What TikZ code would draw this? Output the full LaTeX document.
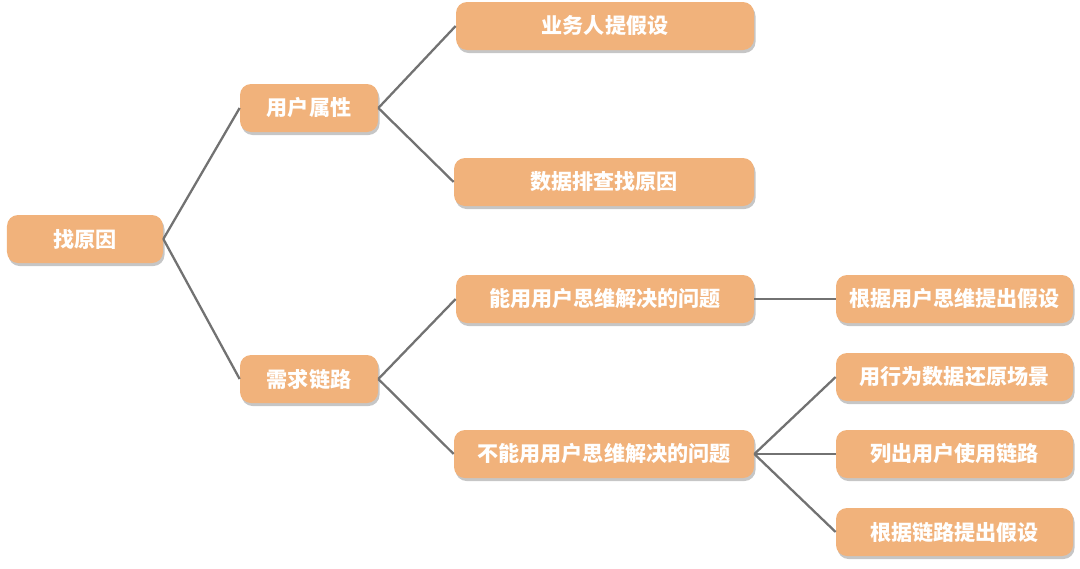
\documentclass[tikz,border=0pt]{standalone}
\usepackage{fontspec}
\newfontfamily\cjk{Noto Sans CJK SC}
\usepackage{xcolor}
\usepackage{tikz}
\usetikzlibrary{shadows,positioning}

\definecolor{boxfill}{HTML}{F1B27B}
\definecolor{linkgray}{HTML}{727272}

\begin{document}
\begin{tikzpicture}[node distance=0cm,
box/.style={rectangle,rounded corners=2.2mm,fill=boxfill,
drop shadow={shadow xshift=0.3mm,shadow yshift=-0.6mm,opacity=0.45},
minimum height=9.6mm,inner sep=0pt,text=white,font=\cjk\bfseries\fontsize{12}{14}\selectfont},
link/.style={-,line width=1.3pt,linkgray}]
\useasboundingbox (0,0) rectangle (21.6,11.36);
\begin{scope}[scale=1, transform shape]

\node (find_cause) [box, minimum width=31.2mm] at (1.70,6.58) {找原因};

\node (user_attr) [box, minimum width=27.6mm] at (6.18,9.20) {用户属性};
\node (demand_chain) [box, minimum width=27.6mm] at (6.18,3.78) {需求链路};

\node (biz_hyp) [box, minimum width=59.6mm] at (12.10,10.84) {业务人提假设};
\node (data_check) [box, minimum width=60mm] at (12.08,7.72) {数据排查找原因};
\node (can_solve) [box, minimum width=59.6mm] at (12.10,5.38) {能用用户思维解决的问题};
\node (cannot_solve) [box, minimum width=60mm] at (12.08,2.28) {不能用用户思维解决的问题};

\node (think_hyp) [box, minimum width=47.4mm] at (19.09,5.38) {根据用户思维提出假设};
\node (behav_data) [box, minimum width=47.4mm] at (19.09,3.82) {用行为数据还原场景};
\node (list_path) [box, minimum width=47.4mm] at (19.09,2.28) {列出用户使用链路};
\node (path_hyp) [box, minimum width=47.4mm] at (19.09,0.72) {根据链路提出假设};

\draw[link] (find_cause.east)--(user_attr.west);
\draw[link] (find_cause.east)--(demand_chain.west);

\draw[link] (user_attr.east)--(biz_hyp.west);
\draw[link] (user_attr.east)--(data_check.west);

\draw[link] (demand_chain.east)--(can_solve.west);
\draw[link] (demand_chain.east)--(cannot_solve.west);

\draw[link] (can_solve.east)--(think_hyp.west);

\draw[link] (cannot_solve.east)--(behav_data.west);
\draw[link] (cannot_solve.east)--(list_path.west);
\draw[link] (cannot_solve.east)--(path_hyp.west);

\end{scope}

\end{tikzpicture}
\end{document}
